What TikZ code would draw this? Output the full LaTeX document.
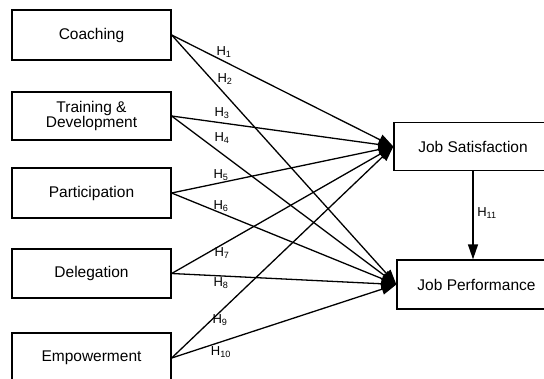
\documentclass[tikz,border=0pt]{standalone}
\usepackage{fontspec}
\setmainfont{Liberation Sans}
\usetikzlibrary{arrows.meta}
\begin{document}
\begin{tikzpicture}[x=1pt,y=-1pt,
  box/.style={draw, line width=1.3pt, inner sep=0pt, align=center, font=\fontsize{15.5}{14.5}\selectfont},
  conn/.style={line width=1.3pt, -{Triangle[length=15pt,width=11pt]}},
  hyp/.style={font=\fontsize{13}{15}\selectfont, inner sep=0pt}]
\useasboundingbox (0,0) rectangle (544,378);
\clip (0,0) rectangle (544,378);
\fill[white] (0,0) rectangle (544,378);
% left boxes
\node[box, minimum width=159pt, minimum height=50pt] (coach) at (91.5,35) {Coaching};
\node[box, minimum width=159pt, minimum height=48pt] (train) at (91.5,116) {Training \&\\Development};
\node[box, minimum width=159pt, minimum height=50pt] (part) at (91.5,193) {Participation};
\node[box, minimum width=159pt, minimum height=49pt] (dele) at (91.5,273.5) {Delegation};
\node[box, minimum width=159pt, minimum height=50pt] (empo) at (91.5,358) {Empowerment};
% right boxes
\node[box, minimum width=158pt, minimum height=48pt] (js) at (473,146.5) {Job Satisfaction};
\node[box, minimum width=159pt, minimum height=49pt] (jp) at (476.5,284.5) {Job Performance};
% connectors
\draw[conn] (coach.east) -- (js.west);
\draw[conn] (coach.east) -- (jp.west);
\draw[conn] (train.east) -- (js.west);
\draw[conn] (train.east) -- (jp.west);
\draw[conn] (part.east) -- (js.west);
\draw[conn] (part.east) -- (jp.west);
\draw[conn] (dele.east) -- (js.west);
\draw[conn] (dele.east) -- (jp.west);
\draw[conn] (empo.east) -- (js.west);
\draw[conn] (empo.east) -- (jp.west);
\draw[line width=1.3pt, -{Triangle[length=15pt,width=10pt]}] (js.south) -- (js.south |- jp.north);
% labels
\node[hyp] (h1) at (224,52) {H\textsubscript{1}};
\node[hyp] (h2) at (225,79) {H\textsubscript{2}};
\node[hyp] (h3) at (222,113) {H\textsubscript{3}};
\node[hyp] (h4) at (222,138) {H\textsubscript{4}};
\node[hyp] (h5) at (221,175) {H\textsubscript{5}};
\node[hyp] (h6) at (221,206) {H\textsubscript{6}};
\node[hyp] (h7) at (222,253) {H\textsubscript{7}};
\node[hyp] (h8) at (221,283) {H\textsubscript{8}};
\node[hyp] (h9) at (220,320) {H\textsubscript{9}};
\node[hyp] (h10) at (221,352) {H\textsubscript{10}};
\node[hyp] (h11) at (487,213) {H\textsubscript{11}};
\end{tikzpicture}
\end{document}
